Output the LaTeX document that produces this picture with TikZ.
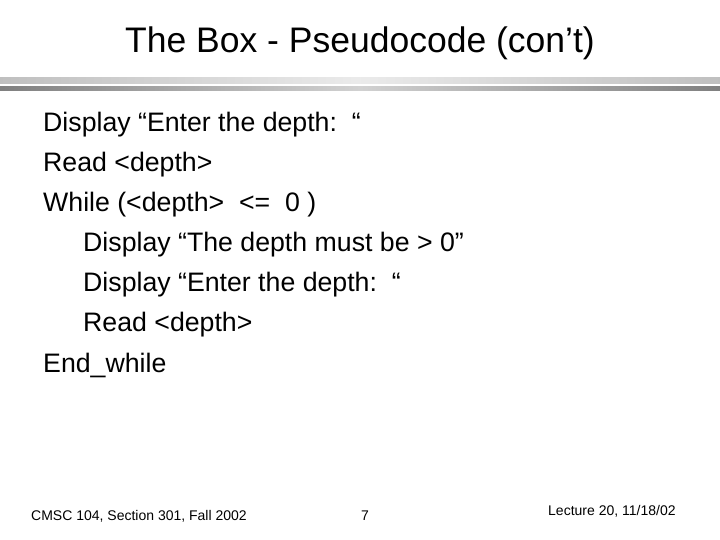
\documentclass[tikz,border=0pt]{standalone}
\usepackage{fontspec}
\setmainfont{Liberation Sans}
\begin{document}
\begin{tikzpicture}[x=1bp,y=-1bp,
  body/.style={anchor=west,inner sep=0pt,font=\fontsize{26.7bp}{30bp}\selectfont},
  foot/.style={inner sep=0pt,font=\fontsize{14bp}{16bp}\selectfont}]
\useasboundingbox[fill=white] (0,0) rectangle (720,540);
\node[inner sep=0pt,font=\fontsize{35.5bp}{40bp}\selectfont] (title) at (360,43) {The Box - Pseudocode (con’t)};
\shade[left color=black!25,right color=black!25,middle color=black!8] (0,78) rectangle (720,84);
\shade[left color=black!50,right color=black!50,middle color=black!18] (0,87) rectangle (720,91);
\node[body] (l1) at (43,125) {Display “Enter the depth:\ \ “};
\node[body] (l2) at (43,165) {Read <depth>};
\node[body] (l3) at (43,205) {While (<depth>\ \ <=\ \ 0 )};
\node[body] (l4) at (83,245) {Display “The depth must be > 0”};
\node[body] (l5) at (83,285) {Display “Enter the depth:\ \ “};
\node[body] (l6) at (83,325) {Read <depth>};
\node[body] (l7) at (43,365) {End\_while};
\node[foot,anchor=west] (f1) at (31,516) {CMSC 104, Section 301, Fall 2002};
\node[foot] (f2) at (365,516) {7};
\node[foot,anchor=west] (f3) at (548,511) {Lecture 20, 11/18/02};
\end{tikzpicture}
\end{document}
